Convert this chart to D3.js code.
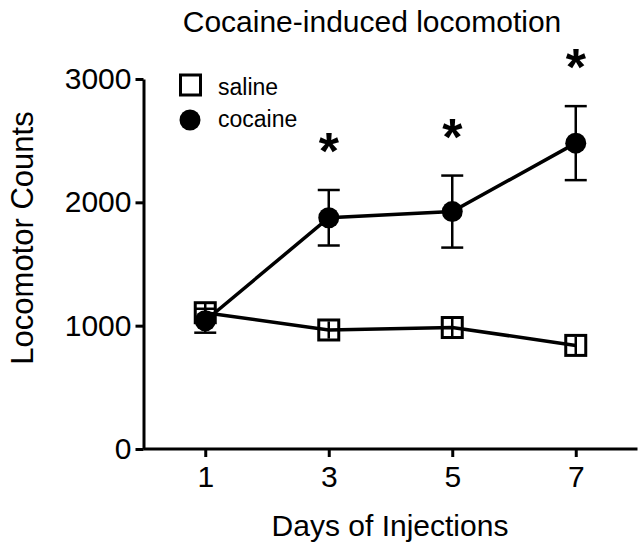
<!DOCTYPE html>
<html>
<head>
<meta charset="utf-8">
<script src="https://cdn.jsdelivr.net/npm/d3@7"></script>
<style>
  body { margin: 0; background: #fff; }
  text { font-family: "Liberation Sans", Arial, sans-serif; fill: #000; }
</style>
</head>
<body>
<div id="chart"></div>
<script>
// data
var days = [1, 3, 5, 7];
var salineMean = [1105, 965, 985, 840];
var salineSem = [80, 70, 75, 70];
var cocaineMean = [1040, 1875, 1925, 2480];
var cocaineSem = [97, 225, 292, 300];
var significant = [false, true, true, true];
var yTicks = [0, 1000, 2000, 3000];
var xTicks = [1, 3, 5, 7];

var W = 644, H = 551;
var svg = d3.select("#chart").append("svg").attr("width", W).attr("height", H);

var x = d3.scaleLinear().domain([0, 8]).range([143.5, 637.5]);
var y = d3.scaleLinear().domain([0, 3000]).range([449, 79]);

// axes
var yAxis = svg.append("g").attr("transform", "translate(143.5,0)")
  .call(d3.axisLeft(y).tickValues(yTicks).tickFormat(d3.format("d"))
    .tickSize(8).tickPadding(4).tickSizeOuter(0));
var xAxis = svg.append("g").attr("transform", "translate(0,449)")
  .call(d3.axisBottom(x).tickValues(xTicks).tickFormat(d3.format("d"))
    .tickSize(8).tickPadding(9).tickSizeOuter(0));
[xAxis, yAxis].forEach(function(g){
  g.select(".domain").attr("stroke", "#000").attr("stroke-width", 3);
  g.selectAll(".tick line").attr("stroke", "#000").attr("stroke-width", 3);
  g.selectAll(".tick text").attr("font-size", 30).attr("font-family", "Liberation Sans, Arial, sans-serif").attr("fill", "#000");
});
xAxis.select(".domain").attr("d", "M143.5,0H637.5");

// titles
svg.append("text").attr("x", 372).attr("y", 32).attr("text-anchor", "middle")
  .attr("font-size", 30).text("Cocaine-induced locomotion");
svg.append("text").attr("transform", "translate(33,238) rotate(-90)").attr("text-anchor", "middle")
  .attr("font-size", 31).text("Locomotor Counts");
svg.append("text").attr("x", 390).attr("y", 536).attr("text-anchor", "middle")
  .attr("font-size", 30).text("Days of Injections");

var half = 10, capW = 11;
var line = d3.line().x(function(d){ return x(d[0]); }).y(function(d){ return y(d[1]); });

function drawSeries(mean, sem, filled) {
  var pts = days.map(function(d, i){ return [d, mean[i], sem[i]]; });
  svg.append("path").datum(pts).attr("d", line).attr("fill", "none")
    .attr("stroke", "#000").attr("stroke-width", 3.5);
  var eb = svg.append("g").attr("stroke", "#000").attr("stroke-width", 2.5);
  pts.forEach(function(p){
    var cx = x(p[0]), hi = y(p[1] + p[2]), lo = y(p[1] - p[2]);
    eb.append("line").attr("x1", cx).attr("x2", cx).attr("y1", hi).attr("y2", lo);
    if (lo - y(p[1]) > half + 1) {
      eb.append("line").attr("x1", cx - capW).attr("x2", cx + capW).attr("y1", hi).attr("y2", hi);
      eb.append("line").attr("x1", cx - capW).attr("x2", cx + capW).attr("y1", lo).attr("y2", lo);
    }
  });
  if (filled) {
    svg.append("g").selectAll("circle").data(pts).enter().append("circle")
      .attr("cx", function(d){ return x(d[0]); }).attr("cy", function(d){ return y(d[1]); })
      .attr("r", 10.5).attr("fill", "#000");
  } else {
    svg.append("g").selectAll("rect").data(pts).enter().append("rect")
      .attr("x", function(d){ return x(d[0]) - half; }).attr("y", function(d){ return y(d[1]) - half; })
      .attr("width", 2 * half).attr("height", 2 * half)
      .attr("fill", "none").attr("stroke", "#000").attr("stroke-width", 3);
  }
  return pts;
}

drawSeries(salineMean, salineSem, false);
var coc = drawSeries(cocaineMean, cocaineSem, true);

// significance stars
svg.append("g").selectAll("text").data(coc.filter(function(d, i){ return significant[i]; }))
  .enter().append("text")
  .attr("x", function(d){ return x(d[0]); })
  .attr("y", function(d){ return y(d[1] + d[2]) - 21; })
  .attr("text-anchor", "middle").attr("font-size", 52).attr("font-weight", "bold")
  .text("*");

// legend
var lg = svg.append("g");
lg.append("rect").attr("x", 180.5).attr("y", 75).attr("width", 20).attr("height", 20)
  .attr("fill", "none").attr("stroke", "#000").attr("stroke-width", 3);
lg.append("text").attr("x", 218).attr("y", 95).attr("font-size", 23).text("saline");
lg.append("circle").attr("cx", 190).attr("cy", 120).attr("r", 10.5).attr("fill", "#000");
lg.append("text").attr("x", 218).attr("y", 127).attr("font-size", 23).text("cocaine");
</script>
</body>
</html>
